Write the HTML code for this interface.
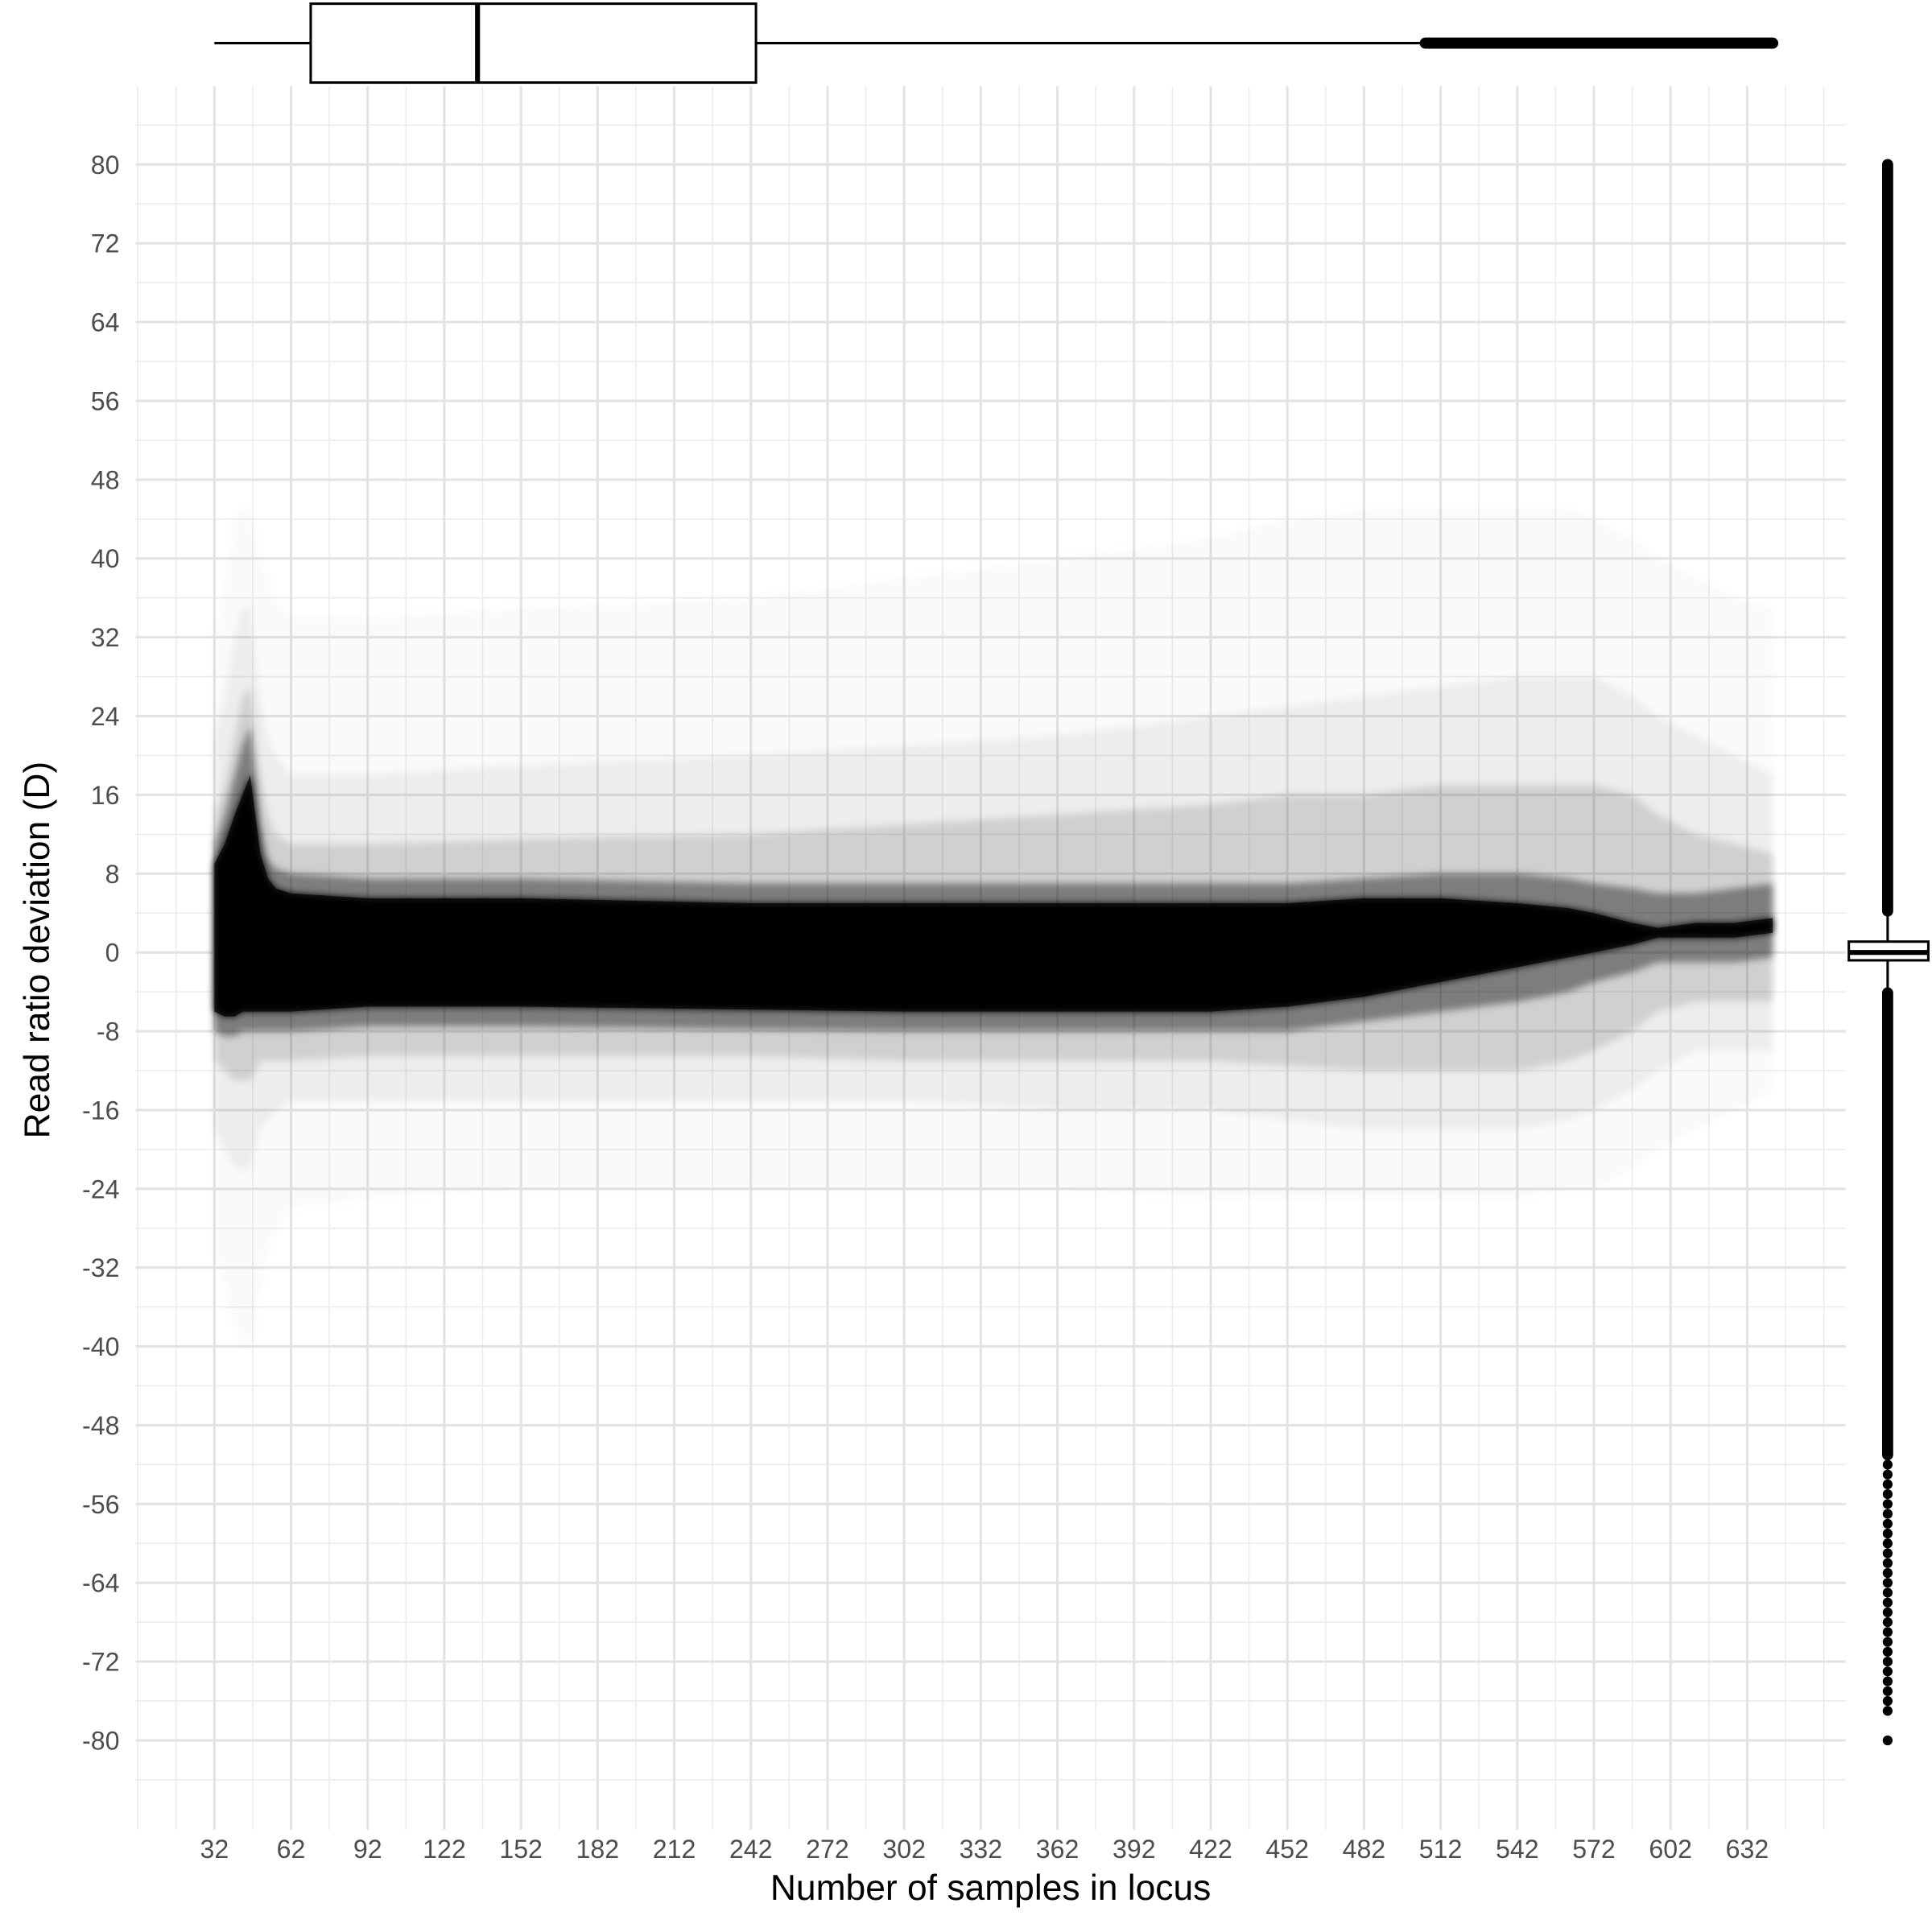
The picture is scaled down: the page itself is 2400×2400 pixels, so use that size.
<!DOCTYPE html>
<html><head><meta charset="utf-8"><style>
html,body{margin:0;padding:0;background:#fff;}
svg{display:block;font-family:"Liberation Sans",sans-serif;}
</style></head><body>
<svg id="chart" width="2400" height="2400" viewBox="0 0 1568 1568">
<defs><filter id="soft" x="-10%" y="-10%" width="120%" height="120%"><feGaussianBlur stdDeviation="3"/></filter></defs>
<g id="grid"></g>
<g id="haze"></g>
<g id="xaxis"></g>
<g id="yaxis"></g>
<g id="topbox"></g>
<g id="rightbox"></g>
<text x="804" y="1542" text-anchor="middle" font-size="29" fill="#000">Number of samples in locus</text>
<text transform="translate(40,771) rotate(-90)" text-anchor="middle" font-size="29" fill="#000">Read ratio deviation (D)</text>
</svg>
<script>
const xTicks=[32,62,92,122,152,182,212,242,272,302,332,362,392,422,452,482,512,542,572,602,632];
const yTicks=[80,72,64,56,48,40,32,24,16,8,0,-8,-16,-24,-32,-40,-48,-56,-64,-72,-80];
const bandX=[32,36,40,43,46,48,50,53,56,62,92,152,242,302,362,422,452,482,512,542,562,572,587,597,612,627,642];
const denseUp=[9,11,14,16,18,14,10,7.5,6.5,6,5.5,5.5,5,5,5,5,5,5.5,5.5,5,4.5,4,3,2.5,3,3,3.5];
const denseLo=[-6,-6.5,-6.5,-6,-6,-6,-6,-6,-6,-6,-5.5,-5.5,-5.8,-6,-6,-6,-5.5,-4.5,-3,-1.5,-0.5,0,0.8,1.5,1.5,1.5,2];
const darkUp=[11,14,18,21,23,18,13,9.5,8.5,8,7.5,7.5,7,7,7,7,7,7.5,8,8,7.5,7,6.5,6,6,6.5,7];
const darkLo=[-8,-8.5,-8.5,-8,-8,-8,-8,-8,-8,-8,-7.5,-7.5,-7.8,-8,-8,-8,-8,-7,-6,-5,-4,-3,-2,-1,-1,-1,-0.5];
const medUp=[14,17,22,26,27,22,18,14,12,11,11,11.5,12,13,14,15,16,16,17,17,17,17,16,14,12,11,10];
const medLo=[-11,-12,-13,-13,-13,-12,-11,-11,-11,-11,-10.5,-10.5,-10.5,-11,-11,-11,-11.5,-12,-12,-12,-11,-10,-8,-6,-5,-5,-5];
const lightUp=[22,26,32,35,35,30,26,22,20,18,18,19,20,21,22,24,25,26,27,28,28,28,26,24,22,20,18];
const lightLo=[-18,-20,-22,-22,-22,-20,-18,-17,-16,-15,-15,-15,-15,-15,-16,-16,-17,-18,-18,-18,-17,-16,-14,-12,-10,-10,-10];
const faintUp=[32,38,44,45,45,42,40,38,36,34,34,35,36,38,40,42,44,45,45,45,45,44,42,40,38,36,35];
const faintLo=[-30,-34,-38,-40,-40,-38,-34,-30,-28,-26,-25,-24,-24,-24,-24,-25,-25,-25,-25,-25,-24,-24,-22,-20,-18,-16,-14];
const xWhiskLo=32, xQ1=69.7, xMed=135, xQ3=244, xWhiskHi=506, xMax=642;
const dQ1=-0.8, dMed=0, dQ3=1.1, dWhiskLo=-3.6, dWhiskHi=3.7, dOutHi=80, dOutLoDense=-51;
const dOutLoSparse=[-52,-53,-54,-55,-56,-57,-58,-59,-60,-61,-62,-63,-64,-65,-66,-67,-68,-69,-70,-71,-72,-73,-74,-75,-76,-77,-80];

const X=v=>174+(v-32)*(1418-174)/600;
const Y=v=>773-v*(1413-134)/160;
const NS='http://www.w3.org/2000/svg';
function mk(tag,parent,attrs){const e=document.createElementNS(NS,tag);for(const k in attrs)e.setAttribute(k,attrs[k]);parent.appendChild(e);return e;}
const grid=document.getElementById('grid');
const L=110,R=1498,T=70,B=1485;
for(let v=2;v<=677;v+=15){if(X(v)<L||X(v)>R)continue;const l=mk('line',grid,{x1:X(v),x2:X(v),y1:T,y2:B,stroke:'#ebebeb','stroke-width':1});
}
for(let v=-84;v<=84;v+=8){const l=mk('line',grid,{y1:Y(v),y2:Y(v),x1:L,x2:R,stroke:'#ebebeb','stroke-width':1});
}
xTicks.forEach(v=>{const l=mk('line',grid,{x1:X(v),x2:X(v),y1:T,y2:B,stroke:'#e3e3e3','stroke-width':2});
});
yTicks.forEach(v=>{const l=mk('line',grid,{y1:Y(v),y2:Y(v),x1:L,x2:R,stroke:'#e3e3e3','stroke-width':2});
});
const haze=document.getElementById('haze');
function band(up,lo,op,name,blur){let d='M'+bandX.map((x,i)=>X(x)+','+Y(up[i])).join('L');
for(let i=bandX.length-1;i>=0;i--)d+='L'+X(bandX[i])+','+Y(lo[i]);
const p=mk('path',haze,{d:d+'Z',fill:'#000','fill-opacity':op});
if(blur)p.setAttribute('filter','url(#soft)');
}
band(faintUp,faintLo,0.02,'faint-point-cloud',true);
band(lightUp,lightLo,0.05,'light-point-cloud',true);
band(medUp,medLo,0.12,'medium-point-cloud',true);
band(darkUp,darkLo,0.4,'dark-point-cloud',true);
band(denseUp,denseLo,1,'dense-point-band',true);
band(denseUp,denseLo,0.7,'dense-point-core',false);
const xa=document.getElementById('xaxis');
xTicks.forEach(v=>{const t=mk('text',xa,{x:X(v),y:1508,'text-anchor':'middle','font-size':21,fill:'#4d4d4d'});t.textContent=v;
});
const ya=document.getElementById('yaxis');
yTicks.forEach(v=>{const t=mk('text',ya,{x:97,y:Y(v)+7.5,'text-anchor':'end','font-size':21,fill:'#4d4d4d'});t.textContent=v;
});
const tb=document.getElementById('topbox');
let e=mk('line',tb,{x1:X(xWhiskLo),x2:X(xQ1),y1:35,y2:35,stroke:'#000','stroke-width':2});

e=mk('line',tb,{x1:X(xQ3),x2:X(xWhiskHi),y1:35,y2:35,stroke:'#000','stroke-width':2});

e=mk('line',tb,{x1:X(xWhiskHi),x2:X(xMax),y1:35,y2:35,stroke:'#000','stroke-width':9,'stroke-linecap':'round'});

e=mk('rect',tb,{x:X(xQ1),y:3,width:X(xQ3)-X(xQ1),height:64,fill:'#fff',stroke:'#000','stroke-width':2});

e=mk('line',tb,{x1:X(xMed),x2:X(xMed),y1:3,y2:67,stroke:'#000','stroke-width':4});

const rb=document.getElementById('rightbox');const cx=1532;
e=mk('line',rb,{x1:cx,x2:cx,y1:Y(dOutHi),y2:Y(dWhiskLo),stroke:'#000','stroke-width':2});

e=mk('line',rb,{x1:cx,x2:cx,y1:Y(dOutHi),y2:Y(dWhiskHi)-4,stroke:'#000','stroke-width':9,'stroke-linecap':'round'});

e=mk('line',rb,{x1:cx,x2:cx,y1:Y(dWhiskLo)+4,y2:Y(dOutLoDense),stroke:'#000','stroke-width':9,'stroke-linecap':'round'});

dOutLoSparse.forEach(v=>{const c=mk('circle',rb,{cx:cx,cy:Y(v),r:4,fill:'#000'});
});
e=mk('rect',rb,{x:1500.5,y:Y(dQ3),width:64.5,height:Y(dQ1)-Y(dQ3),fill:'#fff',stroke:'#000','stroke-width':2});

e=mk('line',rb,{x1:1500.5,x2:1565,y1:Y(dMed),y2:Y(dMed),stroke:'#000','stroke-width':4});

</script>
</body></html>
